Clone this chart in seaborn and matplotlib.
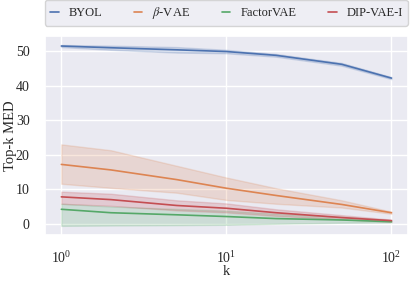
import numpy as np
import pandas as pd
import seaborn as sns
from matplotlib import pyplot as plt

k = [1, 2, 5, 10, 20, 50, 100]
methods = ['BYOL', r'$\beta$-VAE', 'FactorVAE', 'DIP-VAE-I']

byol_mid = [51.5, 51.0, 50.4, 49.9, 48.8, 46.2, 42.2]
byol_lo = [51.2, 50.4, 49.6, 49.4, 48.4, 45.8, 41.9]
byol_hi = [51.8, 51.6, 51.2, 50.4, 49.2, 46.6, 42.5]

bvae_mid = [17.2, 15.6, 12.8, 10.3, 8.2, 5.6, 3.2]
bvae_lo = [11.6, 10.4, 9.0, 6.9, 5.8, 4.7, 2.9]
bvae_hi = [23.0, 21.3, 16.8, 13.4, 10.3, 6.8, 3.5]

fvae_mid = [4.2, 3.2, 2.6, 2.1, 1.5, 1.1, 0.6]
fvae_lo = [-0.6, -0.5, -0.4, -0.3, 0.0, 0.3, 0.4]
fvae_hi = [5.8, 5.0, 4.3, 3.8, 2.9, 2.0, 0.9]

dip_mid = [7.8, 7.0, 5.3, 4.5, 3.2, 1.8, 0.9]
dip_lo = [5.8, 5.2, 3.9, 3.3, 2.3, 1.3, 0.6]
dip_hi = [9.3, 8.7, 6.8, 5.9, 4.2, 2.5, 1.2]

series = {
    methods[0]: (byol_lo, byol_mid, byol_hi),
    methods[1]: (bvae_lo, bvae_mid, bvae_hi),
    methods[2]: (fvae_lo, fvae_mid, fvae_hi),
    methods[3]: (dip_lo, dip_mid, dip_hi),
}

# long table: lower / middle / upper as three rows per k, band = min..max
rows = []
for m, vals in series.items():
    for v in vals:
        for kk, y in zip(k, v):
            rows.append({'k': kk, 'Top-k MED': y, 'method': m})
df = pd.DataFrame(rows)

sns.set_theme(style='darkgrid')
plt.rcParams['font.family'] = ['Liberation Serif', 'DejaVu Serif']
plt.rcParams['mathtext.fontset'] = 'stix'

fig, ax = plt.subplots(figsize=(4.15, 2.83), dpi=100)
sns.lineplot(data=df, x='k', y='Top-k MED', hue='method', hue_order=methods,
             estimator='median', errorbar=lambda x: (x.min(), x.max()),
             linewidth=1.2, ax=ax)
ax.set_xscale('log')
ax.set_yticks([0, 10, 20, 30, 40, 50])
ax.tick_params(labelsize=10, pad=5)
ax.set_xlabel('k', fontsize=10.5)
ax.set_ylabel('Top-k MED', fontsize=10.5)
ax.yaxis.set_label_coords(-0.076, 0.5)
ax.xaxis.set_label_coords(0.5, -0.15)

h, l = ax.get_legend_handles_labels()
ax.legend(h, l, loc='lower left', bbox_to_anchor=(0, 1.05, 1, 0.1), mode='expand',
          ncol=4, fontsize=9, handlelength=0.7, borderaxespad=0, frameon=True)

fig.subplots_adjust(left=0.108, right=0.983, top=0.873, bottom=0.17)
fig.savefig('out.png', dpi=100)
